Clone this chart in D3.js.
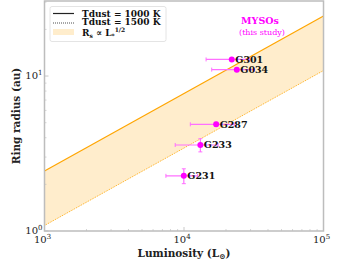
<!DOCTYPE html>
<html>
<head>
<meta charset="utf-8">
<script src="https://cdn.jsdelivr.net/npm/d3@7"></script>
<style>
body { margin: 0; background: #fff; }
text { font-family: "DejaVu Serif", "Liberation Serif", serif; }
</style>
</head>
<body>
<script>
// data
var nombres = ["G301", "G034", "G287", "G233", "G231"];
var luminosidad = [22000, 23900, 17000, 13100, 9970];
var errLum = [7600, 8100, 5900, 4450, 2550];
var radio = [12.8, 11.0, 4.88, 3.59, 2.27];
var errRadio = [0.2, 0.2, 0.15, 0.35, 0.25];
var lumBanda = [1e3, 1e5];
var radio1000 = [2.44, 24.4];
var radio1500 = [1.085, 10.85];
var ticksX = [1e3, 1e4, 1e5];
var ticksY = [1, 10];

function dibujar() {
    var ancho = 360, alto = 265;
    var svg = d3.select("body").append("svg").attr("width", ancho).attr("height", alto);
    var izq = 44.5, der = 323.5, arriba = 1, abajo = 231;
    var x = d3.scaleLog().domain([1e3, 1e5]).range([izq, der]);
    var y = d3.scaleLog().domain([1, 30.5]).range([abajo, arriba]);

    // banda
    var area = d3.area().x(function (d) { return x(d); })
        .y0(function (d, i) { return y(radio1500[i]); })
        .y1(function (d, i) { return y(radio1000[i]); });
    svg.append("path").datum(lumBanda).attr("d", area).attr("fill", "#ffedcc");
    var linea1 = d3.line().x(function (d) { return x(d); }).y(function (d, i) { return y(radio1000[i]); });
    var linea2 = d3.line().x(function (d) { return x(d); }).y(function (d, i) { return y(radio1500[i]); });
    svg.append("path").datum(lumBanda).attr("d", linea1).attr("stroke", "orange").attr("stroke-width", 1.2).attr("fill", "none");
    svg.append("path").datum(lumBanda).attr("d", linea2).attr("stroke", "orange").attr("stroke-width", 0.9)
        .attr("stroke-dasharray", "1,1").attr("fill", "none");

    // ticks menores y mayores (hacia dentro)
    var g = svg.append("g");
    var menoresX = [];
    [1e3, 1e4].forEach(function (b) { for (var k = 2; k < 10; k++) menoresX.push(b * k); });
    var menoresY = [];
    for (var k = 2; k < 10; k++) menoresY.push(k);
    menoresY.push(20, 30);
    menoresX.forEach(function (v) {
        g.append("line").attr("x1", x(v)).attr("x2", x(v)).attr("y1", abajo).attr("y2", abajo - 2).attr("stroke", "#bbb").attr("stroke-width", 0.6);
    });
    ticksX.forEach(function (v) {
        g.append("line").attr("x1", x(v)).attr("x2", x(v)).attr("y1", abajo).attr("y2", abajo - 4).attr("stroke", "#bbb").attr("stroke-width", 0.8);
    });
    menoresY.forEach(function (v) {
        g.append("line").attr("x1", izq).attr("x2", izq + 2).attr("y1", y(v)).attr("y2", y(v)).attr("stroke", "#bbb").attr("stroke-width", 0.6);
    });
    ticksY.forEach(function (v) {
        g.append("line").attr("x1", izq).attr("x2", izq + 4).attr("y1", y(v)).attr("y2", y(v)).attr("stroke", "#bbb").attr("stroke-width", 0.8);
    });

    // marco
    svg.append("rect").attr("x", izq).attr("y", arriba).attr("width", der - izq).attr("height", abajo - arriba)
        .attr("fill", "none").attr("stroke", "#bdbdbd").attr("stroke-width", 1.5);

    // etiquetas de ticks
    ticksX.forEach(function (v) {
        var t = svg.append("text").attr("x", x(v) - 2).attr("y", abajo + 12).attr("text-anchor", "middle").attr("font-size", 10).attr("fill", "#222");
        t.append("tspan").text("10");
        t.append("tspan").attr("dy", -4).attr("font-size", 7).text(Math.round(Math.log10(v)));
    });
    ticksY.forEach(function (v) {
        var t = svg.append("text").attr("x", izq - 2).attr("y", y(v) + 3).attr("text-anchor", "end").attr("font-size", 10).attr("fill", "#222");
        t.append("tspan").text("10");
        t.append("tspan").attr("dy", -4).attr("font-size", 7).text(Math.round(Math.log10(v)));
    });

    // titulos de ejes
    var tx = svg.append("text").attr("x", (izq + der) / 2).attr("y", 257).attr("text-anchor", "middle")
        .attr("font-size", 10.5).attr("font-weight", "bold").attr("fill", "#222");
    tx.append("tspan").text("Luminosity (L");
    tx.append("tspan").attr("font-size", 7.5).attr("dy", 2).text("⊙");
    tx.append("tspan").attr("dy", -2).text(")");
    svg.append("text").attr("transform", "translate(20," + (abajo + arriba) / 2 + ") rotate(-90)")
        .attr("text-anchor", "middle").attr("font-size", 10.5).attr("font-weight", "bold").attr("fill", "#222")
        .text("Ring radius (au)");

    // puntos con barras de error
    var puntos = svg.append("g");
    nombres.forEach(function (n, i) {
        var cx = x(luminosidad[i]), cy = y(radio[i]);
        var x0 = x(luminosidad[i] - errLum[i]), x1 = x(luminosidad[i] + errLum[i]);
        var y0 = y(radio[i] - errRadio[i]), y1 = y(radio[i] + errRadio[i]);
        var col = "#ff70ff";
        puntos.append("line").attr("x1", x0).attr("x2", x1).attr("y1", cy).attr("y2", cy).attr("stroke", col).attr("stroke-width", 1.2);
        puntos.append("line").attr("x1", x0).attr("x2", x0).attr("y1", cy - 2).attr("y2", cy + 2).attr("stroke", col).attr("stroke-width", 1);
        puntos.append("line").attr("x1", x1).attr("x2", x1).attr("y1", cy - 2).attr("y2", cy + 2).attr("stroke", col).attr("stroke-width", 1);
        puntos.append("line").attr("x1", cx).attr("x2", cx).attr("y1", y0).attr("y2", y1).attr("stroke", col).attr("stroke-width", 1.2);
        puntos.append("line").attr("x1", cx - 2).attr("x2", cx + 2).attr("y1", y0).attr("y2", y0).attr("stroke", col).attr("stroke-width", 1);
        puntos.append("line").attr("x1", cx - 2).attr("x2", cx + 2).attr("y1", y1).attr("y2", y1).attr("stroke", col).attr("stroke-width", 1);
        puntos.append("circle").attr("cx", cx).attr("cy", cy).attr("r", 3).attr("fill", "magenta");
        puntos.append("text").attr("x", cx + 3.5).attr("y", cy + 3.5).attr("font-size", 9.5).attr("font-weight", "bold")
            .attr("fill", "#111").text(n);
    });

    // MYSOs
    svg.append("text").attr("x", 260).attr("y", 24).attr("text-anchor", "middle").attr("font-size", 9.5)
        .attr("font-weight", "bold").attr("fill", "magenta").text("MYSOs");
    svg.append("text").attr("x", 262).attr("y", 35).attr("text-anchor", "middle").attr("font-size", 8)
        .attr("fill", "magenta").text("(this study)");

    // leyenda
    var ley = svg.append("g");
    ley.append("rect").attr("x", 50).attr("y", 6.5).attr("width", 116).attr("height", 35).attr("rx", 2)
        .attr("fill", "white").attr("fill-opacity", 0.85).attr("stroke", "#ddd").attr("stroke-width", 0.8);
    ley.append("line").attr("x1", 53).attr("x2", 74).attr("y1", 13.5).attr("y2", 13.5).attr("stroke", "#222").attr("stroke-width", 1.2);
    ley.append("line").attr("x1", 53).attr("x2", 74).attr("y1", 23).attr("y2", 23).attr("stroke", "#222").attr("stroke-width", 0.8).attr("stroke-dasharray", "1,1");
    ley.append("rect").attr("x", 53).attr("y", 29).attr("width", 21).attr("height", 6).attr("fill", "#ffedcc");
    ley.append("text").attr("x", 82).attr("y", 16.5).attr("font-size", 9).attr("font-weight", "bold").attr("fill", "#111").text("Tdust = 1000 K");
    ley.append("text").attr("x", 82).attr("y", 25).attr("font-size", 9).attr("font-weight", "bold").attr("fill", "#111").text("Tdust = 1500 K");
    var t3 = ley.append("text").attr("x", 82).attr("y", 35.5).attr("font-size", 9).attr("font-weight", "bold").attr("fill", "#111");
    t3.append("tspan").text("R");
    t3.append("tspan").attr("font-size", 6).attr("dy", 2).text("s");
    t3.append("tspan").attr("dy", -2).text(" ∝ L");
    t3.append("tspan").attr("font-size", 6).attr("dy", 2).text("*");
    t3.append("tspan").attr("font-size", 6).attr("dy", -6).text("1/2");
}
window.onload = dibujar;
</script>
</body>
</html>
